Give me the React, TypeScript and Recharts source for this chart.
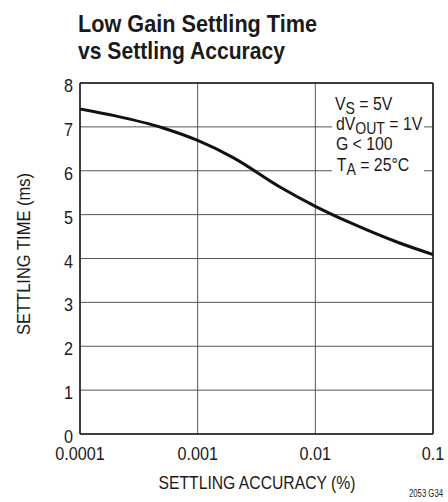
import { CartesianGrid, Line, LineChart, ReferenceLine, XAxis, YAxis } from "recharts";

// settling accuracy (%) vs settling time (ms)
const accuracy = [0.0001, 0.0002, 0.0005, 0.001, 0.002, 0.005, 0.01, 0.02, 0.05, 0.1];
const settlingTime = [7.41, 7.25, 6.98, 6.69, 6.3, 5.63, 5.19, 4.81, 4.37, 4.09];

const xTicks = [0.0001, 0.001, 0.01, 0.1];
const yTicks = [0, 1, 2, 3, 4, 5, 6, 7, 8];

const data = accuracy.map((x, i) => ({ x, t: settlingTime[i] }));

const W = 448;
const H = 502;
const plot = { left: 80, top: 83, right: 433, bottom: 434 };
// no condensed Helvetica here, so squeeze Liberation Sans horizontally
const font = '"Liberation Sans", Arial, sans-serif';
const squeeze = 0.9;
const ink = "#1a1a1a";

function XTick({ x, payload }: any) {
  return (
    <g transform={`translate(${x} ${plot.bottom + 26}) scale(${squeeze} 1)`}>
      <text x={0} y={0} textAnchor="middle" fontSize={18} fontFamily={font} fill={ink}>
        {String(payload.value)}
      </text>
    </g>
  );
}

function YTick({ y, payload }: any) {
  return (
    <g transform={`translate(${plot.left - 7} ${y + 9}) scale(${squeeze} 1)`}>
      <text x={0} y={0} textAnchor="end" fontSize={18} fontFamily={font} fill={ink}>
        {payload.value}
      </text>
    </g>
  );
}

export default function App() {
  return (
    <div style={{ position: "absolute", left: 0, top: 0, width: W, height: H, background: "#fff" }}>
      <LineChart
        width={W}
        height={H}
        data={data}
        margin={{ top: plot.top, right: W - plot.right, bottom: H - plot.bottom - 40, left: plot.left - 60 }}
      >
        <CartesianGrid stroke="#555" strokeWidth={1} />
        <XAxis
          dataKey="x"
          type="number"
          scale="log"
          domain={[0.0001, 0.1]}
          ticks={xTicks}
          allowDataOverflow
          height={40}
          axisLine={{ stroke: ink, strokeWidth: 1.5 }}
          tickLine={false}
          tick={<XTick />}
          interval={0}
        />
        <YAxis
          type="number"
          domain={[0, 8]}
          ticks={yTicks}
          width={60}
          axisLine={{ stroke: ink, strokeWidth: 1.5 }}
          tickLine={false}
          tick={<YTick />}
          interval={0}
        />
        <ReferenceLine y={8} stroke={ink} strokeWidth={1.5} />
        <ReferenceLine x={0.1} stroke={ink} strokeWidth={1.5} />
        <Line
          type="monotone"
          dataKey="t"
          stroke="#111"
          strokeWidth={3}
          dot={false}
          isAnimationActive={false}
        />
      </LineChart>
      <svg
        width={W}
        height={H}
        style={{ position: "absolute", left: 0, top: 0, pointerEvents: "none" }}
        fontFamily={font}
      >
        <text x={78} y={32} fontSize={24} fontWeight="bold" fill={ink} textLength={239} lengthAdjust="spacingAndGlyphs">
          Low Gain Settling Time
        </text>
        <text x={78} y={59} fontSize={24} fontWeight="bold" fill={ink} textLength={207} lengthAdjust="spacingAndGlyphs">
          vs Settling Accuracy
        </text>

        <rect x={332} y={92} width={92} height={86} fill="#fff" />
        <g fontSize={18} fill={ink} transform={`translate(335 0) scale(0.88 1)`}>
          <text x={0} y={110}>
            V<tspan fontSize={16} dy={4}>S</tspan>
            <tspan dy={-4}> = 5V</tspan>
          </text>
          <text x={1} y={130}>
            dV<tspan fontSize={16} dy={4}>OUT</tspan>
            <tspan dy={-4}> = 1V</tspan>
          </text>
          <text x={1} y={150}>G &lt; 100</text>
          <text x={2} y={171}>
            T<tspan fontSize={16} dy={4}>A</tspan>
            <tspan dy={-4}> = 25°C</tspan>
          </text>
        </g>

        <text x={257} y={489} fontSize={18} textAnchor="middle" fill={ink} textLength={197} lengthAdjust="spacingAndGlyphs">
          SETTLING ACCURACY (%)
        </text>
        <text
          x={0}
          y={0}
          fontSize={18}
          textAnchor="middle"
          fill={ink}
          textLength={162}
          lengthAdjust="spacingAndGlyphs"
          transform={`translate(30 254) rotate(-90)`}
        >
          SETTLING TIME (ms)
        </text>
        <text x={443} y={497} fontSize={10} textAnchor="end" fill={ink} textLength={34} lengthAdjust="spacingAndGlyphs">
          2053 G34
        </text>
      </svg>
    </div>
  );
}
